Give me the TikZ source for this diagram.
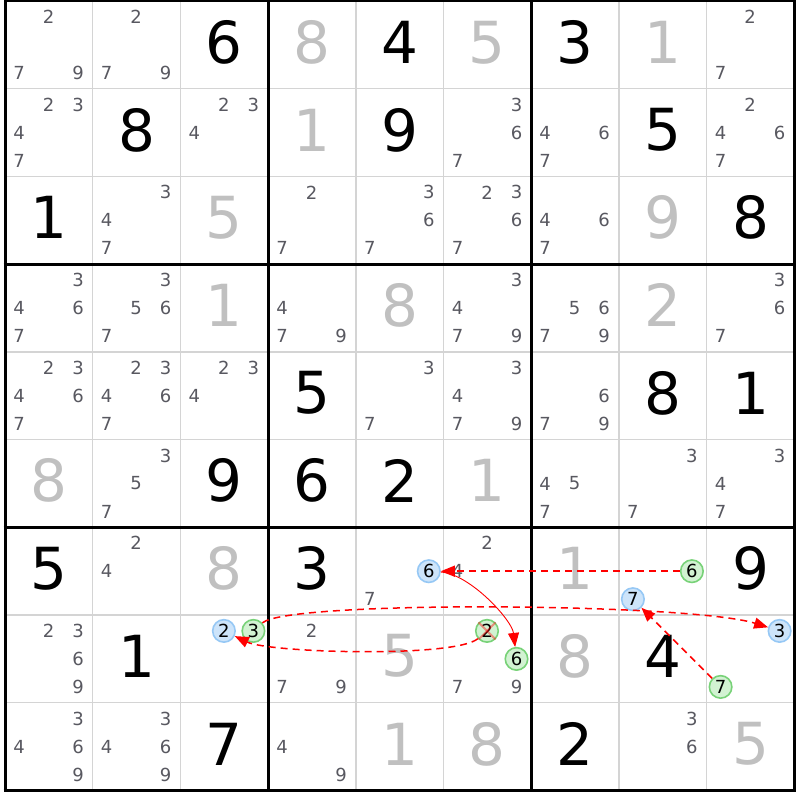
\documentclass[tikz,border=0pt]{standalone}
\usepackage{fontspec}
\setmainfont{DejaVu Sans}
\usetikzlibrary{arrows.meta}
\definecolor{solvedcol}{RGB}{192,192,192}
\definecolor{candcol}{RGB}{88,88,96}
\definecolor{gridthin}{RGB}{212,212,212}
\definecolor{bluefill}{RGB}{205,228,250}
\definecolor{blueline}{RGB}{150,200,245}
\definecolor{greenfill}{RGB}{210,242,210}
\definecolor{greenline}{RGB}{120,210,120}
\definecolor{linkred}{RGB}{255,0,0}
\tikzset{
  bigdigit/.style={inner sep=0pt, font=\fontsize{58}{58}\selectfont},
  givenbox/.style={bigdigit, text=black},
  solvedbox/.style={bigdigit, text=solvedcol},
  cand/.style={inner sep=0pt, font=\fontsize{18}{18}\selectfont, text=candcol},
  markbase/.style={circle, line width=1.6pt, minimum size=22.5pt, inner sep=0pt, font=\fontsize{18}{18}\selectfont, text=black},
  bluemark/.style={markbase, draw=blueline, fill=bluefill},
  greenmark/.style={markbase, draw=greenline, fill=greenfill},
  link/.style={draw=linkred, line width=1.5pt, dash pattern=on 7pt off 5pt, -{Triangle[length=14pt,width=11pt,fill=linkred]}},
  strong/.style={draw=linkred, line width=0.9pt, -{Triangle[length=14pt,width=11pt,fill=linkred]}},
  xmark/.style={draw=linkred, draw opacity=0.4, line width=2pt},
  thinline/.style={gridthin, line width=1.5pt},
  thickline/.style={black, line width=3pt},
}
\newcommand\GivenD[3]{\node[givenbox] (g-#1-#2) at ({5+87.7*(#2+0.5)},{1+87.7*(#1+0.5)-2.5}) {#3};}
\newcommand\SolvedD[3]{\node[solvedbox] (s-#1-#2) at ({5+87.7*(#2+0.5)},{1+87.7*(#1+0.5)-2.5}) {#3};}
\newcommand\CandD[3]{\foreach \d in {#3}{%
  \pgfmathtruncatemacro\ci{mod(\d-1,3)}%
  \pgfmathtruncatemacro\ri{(\d-1)/3}%
  \node[cand] (c-#1-#2-\d) at ({5+87.7*#2+14+29.5*\ci},{1+87.7*#1+16+28*\ri}) {\d};}}
\newcommand\MarkD[5]{%
  \pgfmathtruncatemacro\ci{mod(#5-1,3)}%
  \pgfmathtruncatemacro\ri{(#5-1)/3}%
  \node[#1] (#2) at ({5+87.7*#4+14+29.5*\ci},{1+87.7*#3+16+28*\ri}) {#5};}
\begin{document}
\begin{tikzpicture}[x=1pt,y=-1pt]
\useasboundingbox (0,0) rectangle (800,800);
\fill[white] (0,0) rectangle (800,800);
% grid
\foreach \i in {1,2,4,5,7,8}{
  \draw[thinline] ({5+87.7*\i},1) -- ({5+87.7*\i},790.3);
  \draw[thinline] (5,{1+87.7*\i}) -- (794.3,{1+87.7*\i});
}
\foreach \i in {0,3,6,9}{
  \draw[thickline] ({5+87.7*\i},-0.5) -- ({5+87.7*\i},791.8);
  \draw[thickline] (3.5,{1+87.7*\i}) -- (795.8,{1+87.7*\i});
}
% row 0
\CandD{0}{0}{2,7,9}\CandD{0}{1}{2,7,9}\GivenD{0}{2}{6}\SolvedD{0}{3}{8}\GivenD{0}{4}{4}
\SolvedD{0}{5}{5}\GivenD{0}{6}{3}\SolvedD{0}{7}{1}\CandD{0}{8}{2,7}
% row 1
\CandD{1}{0}{2,3,4,7}\GivenD{1}{1}{8}\CandD{1}{2}{2,3,4}\SolvedD{1}{3}{1}\GivenD{1}{4}{9}
\CandD{1}{5}{3,6,7}\CandD{1}{6}{4,6,7}\GivenD{1}{7}{5}\CandD{1}{8}{2,4,6,7}
% row 2
\GivenD{2}{0}{1}\CandD{2}{1}{3,4,7}\SolvedD{2}{2}{5}\CandD{2}{3}{2,7}\CandD{2}{4}{3,6,7}
\CandD{2}{5}{2,3,6,7}\CandD{2}{6}{4,6,7}\SolvedD{2}{7}{9}\GivenD{2}{8}{8}
% row 3
\CandD{3}{0}{3,4,6,7}\CandD{3}{1}{3,5,6,7}\SolvedD{3}{2}{1}\CandD{3}{3}{4,7,9}\SolvedD{3}{4}{8}
\CandD{3}{5}{3,4,7,9}\CandD{3}{6}{5,6,7,9}\SolvedD{3}{7}{2}\CandD{3}{8}{3,6,7}
% row 4
\CandD{4}{0}{2,3,4,6,7}\CandD{4}{1}{2,3,4,6,7}\CandD{4}{2}{2,3,4}\GivenD{4}{3}{5}\CandD{4}{4}{3,7}
\CandD{4}{5}{3,4,7,9}\CandD{4}{6}{6,7,9}\GivenD{4}{7}{8}\GivenD{4}{8}{1}
% row 5
\SolvedD{5}{0}{8}\CandD{5}{1}{3,5,7}\GivenD{5}{2}{9}\GivenD{5}{3}{6}\GivenD{5}{4}{2}
\SolvedD{5}{5}{1}\CandD{5}{6}{4,5,7}\CandD{5}{7}{3,7}\CandD{5}{8}{3,4,7}
% row 6
\GivenD{6}{0}{5}\CandD{6}{1}{2,4}\SolvedD{6}{2}{8}\GivenD{6}{3}{3}\CandD{6}{4}{7}
\MarkD{bluemark}{bsix}{6}{4}{6}
\CandD{6}{5}{2,4}\SolvedD{6}{6}{1}
\MarkD{greenmark}{gsix}{6}{7}{6}\MarkD{bluemark}{bseven}{6}{7}{7}
\GivenD{6}{8}{9}
% row 7
\CandD{7}{0}{2,3,6,9}\GivenD{7}{1}{1}
\MarkD{bluemark}{btwo}{7}{2}{2}\MarkD{greenmark}{gthree}{7}{2}{3}
\CandD{7}{3}{2,7,9}\SolvedD{7}{4}{5}
\CandD{7}{5}{7,9}\MarkD{greenmark}{gtwo}{7}{5}{2}\MarkD{greenmark}{gsixb}{7}{5}{6}
\SolvedD{7}{6}{8}\GivenD{7}{7}{4}
\MarkD{bluemark}{bthree}{7}{8}{3}\MarkD{greenmark}{gseven}{7}{8}{7}
% row 8
\CandD{8}{0}{3,4,6,9}\CandD{8}{1}{3,4,6,9}\GivenD{8}{2}{7}\CandD{8}{3}{4,9}\SolvedD{8}{4}{1}
\SolvedD{8}{5}{8}\GivenD{8}{6}{2}\CandD{8}{7}{3,6}\SolvedD{8}{8}{5}
% links
\draw[link] (gsix) -- (bsix);
\draw[strong] (bsix) .. controls (470,574) and (512,620) .. (gsixb);
\draw[link] (gtwo) .. controls (455,658) and (270,653) .. (btwo);
\draw[link] (gthree) .. controls (288,600) and (690,603) .. (bthree);
\draw[link] (gseven) -- (bseven);
% eliminated candidate
\draw[xmark] (gtwo.north west) -- (gtwo.south east);
\draw[xmark] (gtwo.north east) -- (gtwo.south west);
\end{tikzpicture}
\end{document}
